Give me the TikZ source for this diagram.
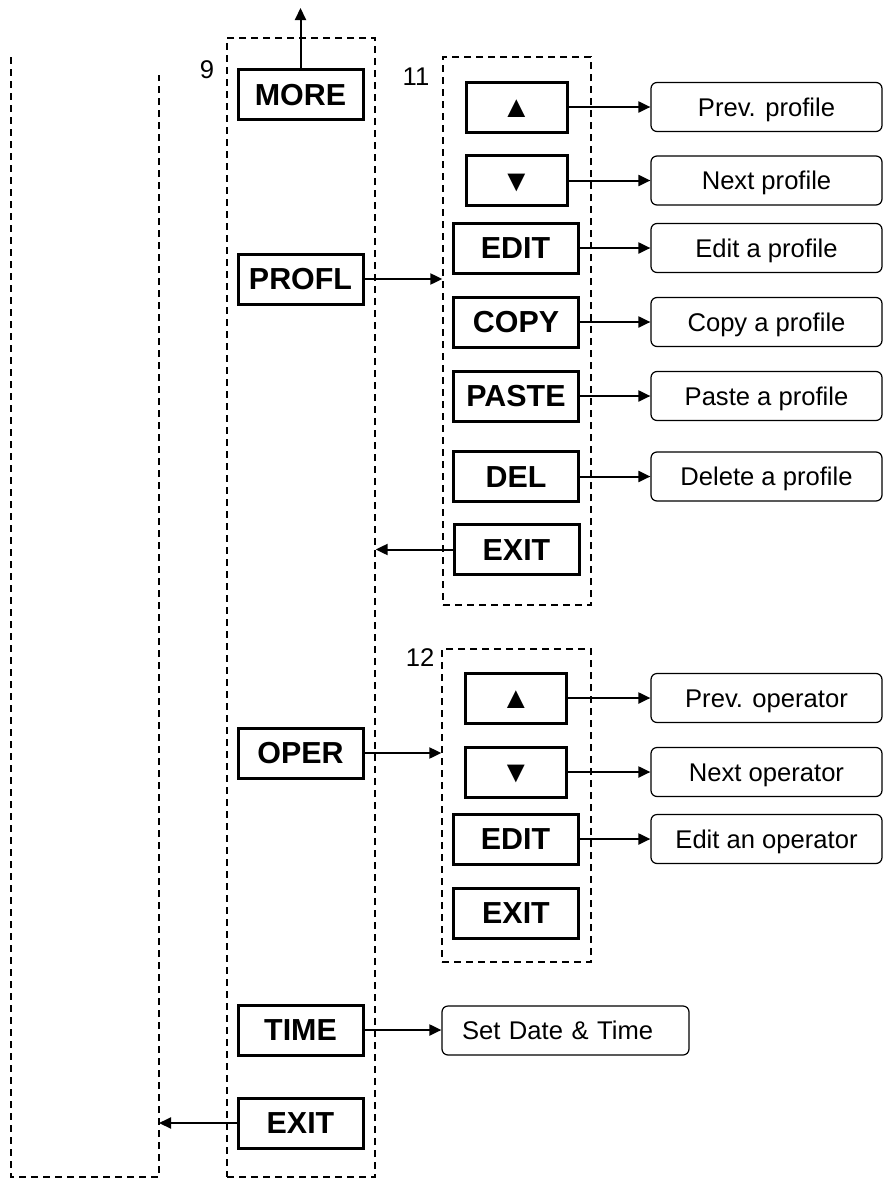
\documentclass[tikz,border=0pt]{standalone}
\usepackage{fontspec}
\setmainfont{Liberation Sans}
\usetikzlibrary{positioning, arrows.meta}

\begin{document}
\begin{tikzpicture}[x=0.5pt, y=-0.5pt,
      key/.style={draw, line width=1.5pt, minimum width=62.5pt,
                  minimum height=25pt, inner sep=0pt,
                  text height=10.9pt, text depth=0pt,
                  font=\fontsize{15.2}{17}\selectfont\bfseries},
      arrkey/.style={key, minimum width=50.5pt},
      act/.style={draw, line width=0.6pt, rounded corners=3pt,
                  minimum width=115.5pt, minimum height=24.5pt, inner sep=0pt,
                  text height=9.2pt, text depth=0pt,
                  font=\fontsize{12.8}{15}\selectfont},
      frame/.style={draw, line width=0.65pt, dash pattern=on 3.5pt off 2.5pt,
                    inner sep=0pt},
      num/.style={font=\fontsize{12.8}{15}\selectfont},
      arr/.style={-{Triangle[length=6pt, width=5.5pt]}, line width=1pt}]
    \useasboundingbox (0,0) rectangle (883,1178);
    % menu frames
    \draw[frame] (11,57) -- (11,1177) -- (159,1177) -- (159,75);
    \coordinate (back) at (159,1122);
    \node[frame, minimum width=74pt, minimum height=569.5pt] (menu) at (301,607.5) {};
    \node[frame, minimum width=74pt, minimum height=274pt] (profmenu) at (517,331) {};
    \node[frame, minimum width=74.5pt, minimum height=156.5pt] (opmenu) at (516.5,805.5) {};
    \node[num] (n9) at (207,70) {9};
    \node[num] (n11) at (416,77) {11};
    \node[num] (n12) at (420,658) {12};
    % main keys
    \node[key] (more) at (300.5,94.5) {MORE};
    \node[key] (profl) at (300.5,279) {PROFL};
    \node[key] (oper) at (300.5,753) {OPER};
    \node[key] (time) at (300.5,1030) {TIME};
    \node[key] (exit) at (300.5,1123) {EXIT};
    \coordinate (up) at (301,8);
    % profile keys
    \node[arrkey] (pup) at (516.5,107) {▲};
    \node[arrkey] (pdown) at (516.5,180.5) {▼};
    \node[key] (pedit) at (515.5,248) {EDIT};
    \node[key] (pcopy) at (516,322) {COPY};
    \node[key] (ppaste) at (516,396) {PASTE};
    \node[key] (pdel) at (516,476.5) {DEL};
    \node[key] (pexit) at (516.5,549.5) {EXIT};
    \node[act] (pprev) at (766.5,107) {Prev. profile};
    \node[act] (pnext) at (766.5,180.5) {Next profile};
    \node[act] (pedita) at (766.5,248) {Edit a profile};
    \node[act] (pcopya) at (766.5,322) {Copy a profile};
    \node[act] (ppastea) at (766.5,396) {Paste a profile};
    \node[act] (pdela) at (766.5,476.5) {Delete a profile};
    % operator keys
    \node[arrkey] (oup) at (516,698) {▲};
    \node[arrkey] (odown) at (516,772) {▼};
    \node[key] (oedit) at (515.5,839) {EDIT};
    \node[key] (oexit) at (516,913) {EXIT};
    \node[act] (oprev) at (766.5,698) {Prev. operator};
    \node[act] (onext) at (766.5,772) {Next operator};
    \node[act] (oedita) at (766.5,839) {Edit an operator};
    \node[act, minimum width=123.5pt, text width=103.5pt, inner xsep=10pt,
          align=left] (date) at (565.5,1030.5) {Set Date \& Time};
    % connectors
    \draw[arr] (more.north) -- (more.north |- up);
    \draw[arr] (profl.east) -- (profl.east -| profmenu.west);
    \draw[arr] (oper.east) -- (oper.east -| opmenu.west);
    \draw[arr] (time.east) -- (time.east -| date.west);
    \draw[arr] (exit.west) -- (exit.west -| back);
    \draw[arr] (pexit.west) -- (pexit.west -| menu.east);
    \draw[arr] (pup.east) -- (pup.east -| pprev.west);
    \draw[arr] (pdown.east) -- (pdown.east -| pnext.west);
    \draw[arr] (pedit.east) -- (pedit.east -| pedita.west);
    \draw[arr] (pcopy.east) -- (pcopy.east -| pcopya.west);
    \draw[arr] (ppaste.east) -- (ppaste.east -| ppastea.west);
    \draw[arr] (pdel.east) -- (pdel.east -| pdela.west);
    \draw[arr] (oup.east) -- (oup.east -| oprev.west);
    \draw[arr] (odown.east) -- (odown.east -| onext.west);
    \draw[arr] (oedit.east) -- (oedit.east -| oedita.west);
  \end{tikzpicture}
\end{document}
